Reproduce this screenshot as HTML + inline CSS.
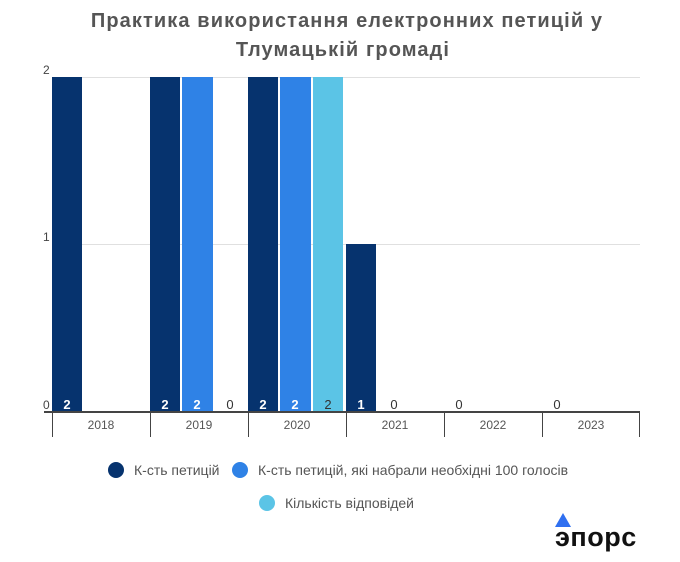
<!DOCTYPE html>
<html><head><meta charset="utf-8"><style>
body{margin:0;background:#fff;width:680px;height:557px;overflow:hidden}
svg text{font-family:"Liberation Sans",sans-serif}
</style></head><body>
<svg width="680" height="557" viewBox="0 0 680 557">
<text x="347" y="27" font-size="20" font-weight="bold" fill="#555" text-anchor="middle" letter-spacing="1.1">Практика використання електронних петицій у</text>
<text x="343" y="56" font-size="20" font-weight="bold" fill="#555" text-anchor="middle" letter-spacing="1.1">Тлумацькій громаді</text>
<g stroke="#e0e0e0" stroke-width="1">
<line x1="52" y1="77.5" x2="640" y2="77.5"/>
<line x1="52" y1="244.5" x2="640" y2="244.5"/>
</g>
<g font-size="12" fill="#444">
<text x="43" y="74">2</text><text x="43" y="241">1</text><text x="43" y="409">0</text>
</g>
<g fill="#06336e">
<rect x="52" y="77" width="30" height="334"/>
<rect x="150" y="77" width="30" height="334"/>
<rect x="248" y="77" width="30" height="334"/>
<rect x="346" y="244" width="30" height="167"/>
</g>
<g fill="#2f82e6">
<rect x="182" y="77" width="31" height="334"/>
<rect x="280" y="77" width="31" height="334"/>
</g>
<rect x="313" y="77" width="30" height="334" fill="#5bc4e6"/>
<g font-size="13" font-weight="bold" fill="#fff" text-anchor="middle">
<text x="67" y="409">2</text><text x="165" y="409">2</text><text x="197" y="409">2</text>
<text x="263" y="409">2</text><text x="295" y="409">2</text><text x="361" y="409">1</text>
</g>
<g font-size="13" fill="#333" text-anchor="middle">
<text x="328" y="409">2</text><text x="230" y="409">0</text><text x="394" y="409">0</text>
<text x="459" y="409">0</text><text x="557" y="409">0</text>
</g>
<line x1="44" y1="412" x2="640" y2="412" stroke="#444" stroke-width="2"/>
<g stroke="#444" stroke-width="1">
<line x1="52.5" y1="412" x2="52.5" y2="437"/><line x1="150.5" y1="412" x2="150.5" y2="437"/>
<line x1="248.5" y1="412" x2="248.5" y2="437"/><line x1="346.5" y1="412" x2="346.5" y2="437"/>
<line x1="444.5" y1="412" x2="444.5" y2="437"/><line x1="542.5" y1="412" x2="542.5" y2="437"/>
<line x1="639.5" y1="412" x2="639.5" y2="437"/>
</g>
<g font-size="12" fill="#555" text-anchor="middle">
<text x="101" y="429">2018</text><text x="199" y="429">2019</text><text x="297" y="429">2020</text>
<text x="395" y="429">2021</text><text x="493" y="429">2022</text><text x="591" y="429">2023</text>
</g>
<g font-size="14" fill="#555">
<circle cx="116" cy="470" r="8" fill="#06336e"/><text x="134" y="475">К-сть петицій</text>
<circle cx="240" cy="470" r="8" fill="#2f82e6"/><text x="258" y="475">К-сть петицій, які набрали необхідні 100 голосів</text>
<circle cx="267" cy="503" r="8" fill="#5bc4e6"/><text x="285" y="508">Кількість відповідей</text>
</g>
<polygon points="563,513 555,527 571,527" fill="#2f6ff0"/>
<text x="555" y="546" font-size="27" font-weight="bold" fill="#111" letter-spacing="0.5">эпорс</text>
</svg>
</body></html>
